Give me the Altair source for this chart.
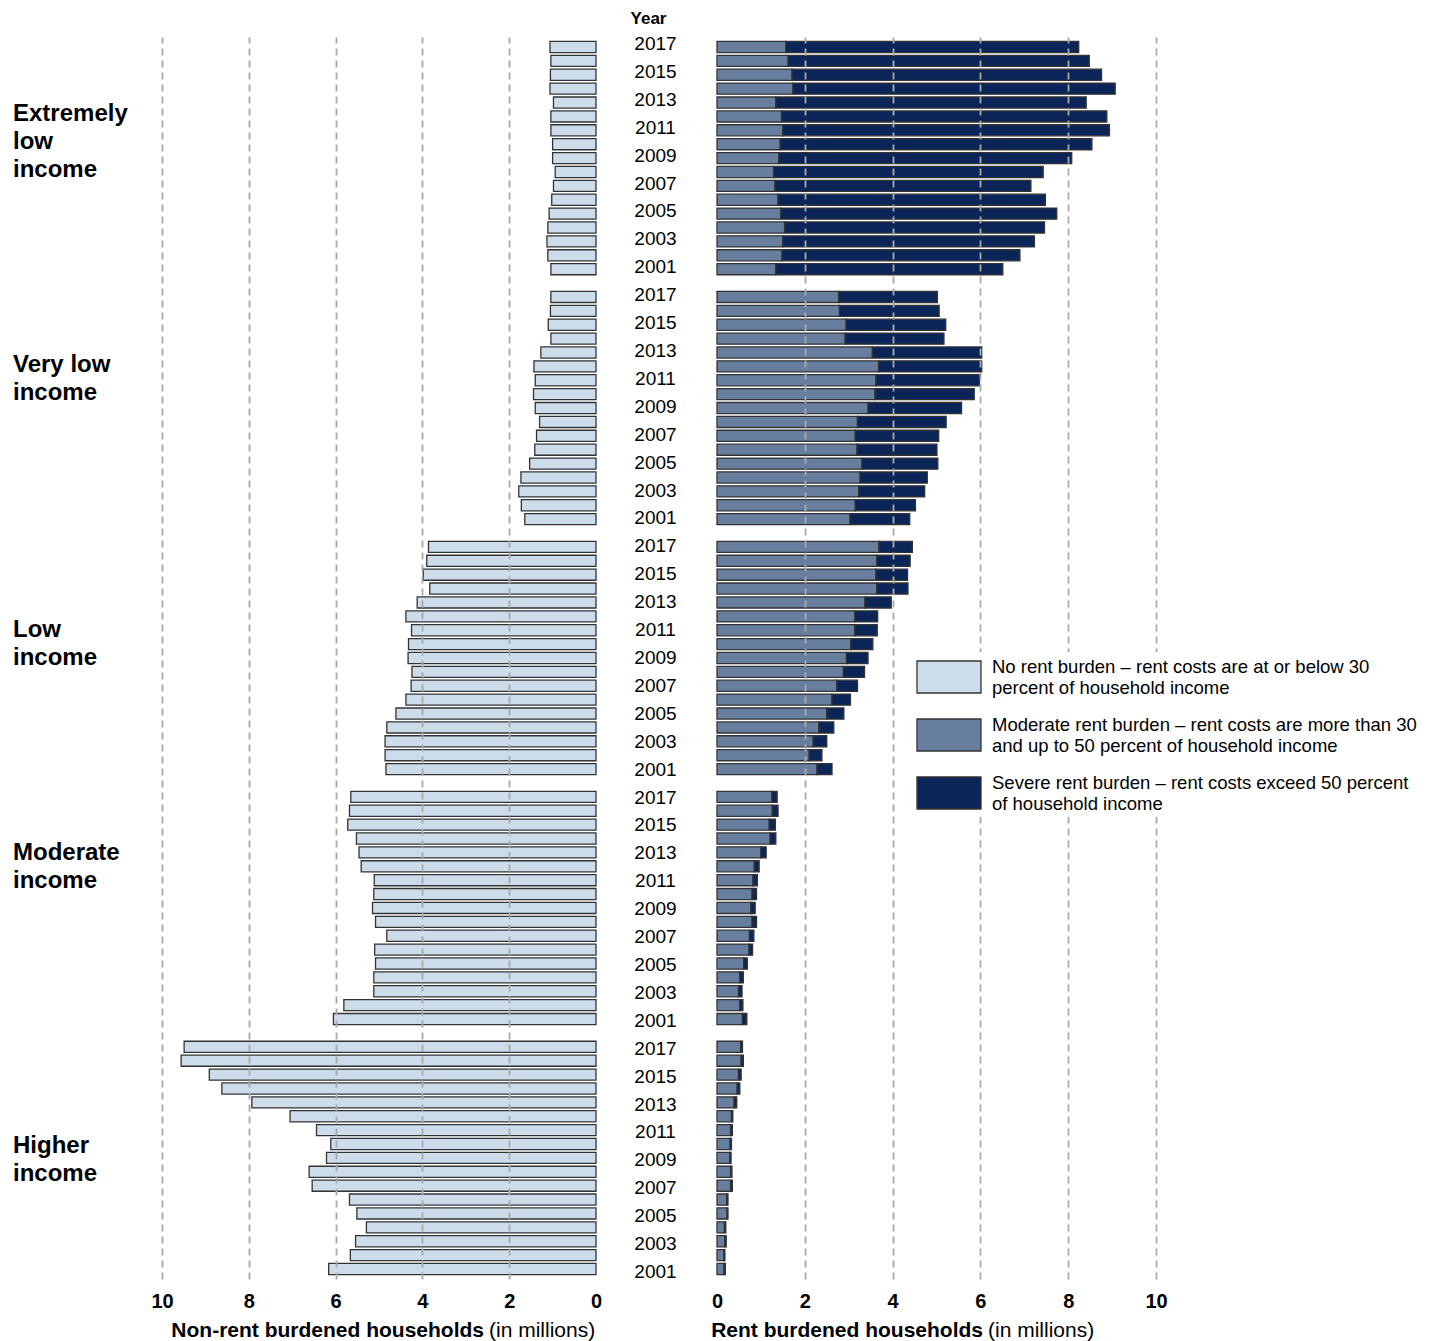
import altair as alt
import pandas as pd

FONT = "Liberation Sans"

YEARS = list(range(2017, 2000, -1))  # 2017 ... 2001 (top to bottom)
GROUPS = ["Extremely low income", "Very low income", "Low income",
          "Moderate income", "Higher income"]
GROUP_LABEL_LINES = [["Extremely", "low", "income"], ["Very low", "income"],
                     ["Low", "income"], ["Moderate", "income"], ["Higher", "income"]]
# year row beside which each label's first line sits
GROUP_LABEL_YEAR = [2012, 2012, 2011, 2013, 2010]

BURDENS = ["No rent burden", "Moderate rent burden", "Severe rent burden"]
LEGEND_LINES = [
    ["No rent burden \u2013 rent costs are at or below 30", "percent of household income"],
    ["Moderate rent burden \u2013 rent costs are more than 30", "and up to 50 percent of household income"],
    ["Severe rent burden \u2013 rent costs exceed 50 percent", "of household income"],
]
COLORS = ["#cddcea", "#687e9e", "#0b2558"]

# values in millions of households, years 2017 -> 2001
NONE_ELI = [1.06, 1.04, 1.05, 1.06, 0.98, 1.04, 1.04, 1.00, 1.00, 0.94, 0.98, 1.02, 1.08, 1.11, 1.13, 1.11, 1.04]
MOD_ELI = [1.57, 1.62, 1.71, 1.73, 1.34, 1.47, 1.50, 1.44, 1.41, 1.29, 1.32, 1.39, 1.45, 1.54, 1.50, 1.48, 1.34]
SEV_ELI = [6.67, 6.86, 7.05, 7.34, 7.07, 7.41, 7.44, 7.10, 6.67, 6.14, 5.83, 6.09, 6.29, 5.92, 5.73, 5.42, 5.17]

NONE_VLI = [1.04, 1.05, 1.10, 1.04, 1.27, 1.43, 1.40, 1.44, 1.40, 1.30, 1.37, 1.41, 1.53, 1.73, 1.78, 1.72, 1.64]
MOD_VLI = [2.77, 2.79, 2.94, 2.92, 3.54, 3.68, 3.62, 3.60, 3.44, 3.20, 3.15, 3.19, 3.30, 3.26, 3.23, 3.15, 3.03]
SEV_VLI = [2.25, 2.27, 2.27, 2.25, 2.49, 2.35, 2.36, 2.26, 2.13, 2.02, 1.90, 1.82, 1.73, 1.53, 1.50, 1.37, 1.36]

NONE_LI = [3.86, 3.90, 3.98, 3.83, 4.12, 4.38, 4.25, 4.32, 4.33, 4.24, 4.26, 4.38, 4.61, 4.82, 4.86, 4.86, 4.84]
MOD_LI = [3.69, 3.64, 3.62, 3.64, 3.37, 3.14, 3.14, 3.05, 2.95, 2.88, 2.73, 2.62, 2.50, 2.32, 2.19, 2.10, 2.28]
SEV_LI = [0.76, 0.76, 0.72, 0.71, 0.60, 0.52, 0.51, 0.50, 0.49, 0.48, 0.47, 0.42, 0.39, 0.34, 0.31, 0.29, 0.34]

NONE_MI = [5.65, 5.68, 5.72, 5.52, 5.46, 5.41, 5.11, 5.12, 5.15, 5.08, 4.82, 5.10, 5.08, 5.12, 5.12, 5.81, 6.05]
MOD_MI = [1.25, 1.26, 1.19, 1.21, 1.00, 0.85, 0.82, 0.80, 0.77, 0.80, 0.74, 0.73, 0.61, 0.52, 0.49, 0.52, 0.58]
SEV_MI = [0.12, 0.13, 0.14, 0.13, 0.12, 0.11, 0.10, 0.10, 0.10, 0.10, 0.10, 0.08, 0.08, 0.08, 0.08, 0.07, 0.10]

NONE_HI = [9.49, 9.56, 8.91, 8.62, 7.93, 7.05, 6.44, 6.11, 6.21, 6.61, 6.54, 5.68, 5.51, 5.29, 5.54, 5.66, 6.16]
MOD_HI = [0.54, 0.55, 0.49, 0.46, 0.39, 0.33, 0.31, 0.30, 0.29, 0.31, 0.31, 0.22, 0.23, 0.17, 0.18, 0.16, 0.16]
SEV_HI = [0.04, 0.05, 0.06, 0.06, 0.06, 0.03, 0.04, 0.03, 0.03, 0.03, 0.04, 0.03, 0.02, 0.03, 0.03, 0.02, 0.03]

NONE_ALL = [NONE_ELI, NONE_VLI, NONE_LI, NONE_MI, NONE_HI]
MOD_ALL = [MOD_ELI, MOD_VLI, MOD_LI, MOD_MI, MOD_HI]
SEV_ALL = [SEV_ELI, SEV_VLI, SEV_LI, SEV_MI, SEV_HI]

# ---- build tables ----
slots = []
for gi, g in enumerate(GROUPS):
    for yr in YEARS:
        slots.append(f"{g}|{yr}")
    if gi < len(GROUPS) - 1:
        slots.append(f"gap{gi}")

none_rows, rent_rows, year_rows, label_rows = [], [], [], []
for gi, g in enumerate(GROUPS):
    for yi, yr in enumerate(YEARS):
        slot = f"{g}|{yr}"
        none_rows.append({"slot": slot, "burden": BURDENS[0], "value": NONE_ALL[gi][yi]})
        rent_rows.append({"slot": slot, "burden": BURDENS[1], "value": MOD_ALL[gi][yi], "order": 1})
        rent_rows.append({"slot": slot, "burden": BURDENS[2], "value": SEV_ALL[gi][yi], "order": 2})
        if yr % 2 == 1:
            year_rows.append({"slot": slot, "year": str(yr)})
    for li, line in enumerate(GROUP_LABEL_LINES[gi]):
        label_rows.append({"slot": f"{g}|{GROUP_LABEL_YEAR[gi] - 2 * li}", "label": line})

df_none = pd.DataFrame(none_rows)
df_rent = pd.DataFrame(rent_rows)
df_years = pd.DataFrame(year_rows)
df_labels = pd.DataFrame(label_rows)
one = pd.DataFrame({"k": [0]})

H = 1242
yscale = alt.Scale(domain=slots, paddingInner=0.2, paddingOuter=0.32)
Y = alt.Y("slot:N", scale=yscale, axis=None)
cscale = alt.Scale(domain=BURDENS, range=COLORS)

STROKE = "#333333"


def xaxis():
    return alt.Axis(
        values=[0, 2, 4, 6, 8, 10], title=None, grid=True,
        gridDash=[7, 5], gridColor="#a9a9a9", gridWidth=1.8,
        gridOpacity={"condition": {"test": "datum.value == 0", "value": 0}, "value": 1},
        labelFont=FONT, labelFontSize=20, labelFontWeight="bold", labelColor="black",
        labelFlush=False, ticks=False, domain=False, labelPadding=12, zindex=1,
    )


label_expr = " : ".join(
    f"datum.label == '{b}' ? {LEGEND_LINES[i]!r}" for i, b in enumerate(BURDENS[:-1])
) + f" : {LEGEND_LINES[-1]!r}"

# group labels
labels_chart = alt.Chart(df_labels).mark_text(
    align="left", baseline="middle", font=FONT, fontSize=24, fontWeight="bold",
    color="black",
).encode(y=Y, text="label:N", x=alt.value(5)).properties(width=154, height=H)

# non-burdened bars
left_bars = alt.Chart(df_none).mark_bar(stroke=STROKE, strokeWidth=1.3).encode(
    x=alt.X("value:Q", scale=alt.Scale(domain=[0, 10], reverse=True), axis=xaxis()),
    y=Y,
    color=alt.Color("burden:N", scale=cscale, legend=None),
)
left_t1 = alt.Chart(one).mark_text(
    text="Non-rent burdened households", align="right", baseline="middle",
    font=FONT, fontSize=21, fontWeight="bold", color="black",
).encode(x=alt.value(322), y=alt.value(H + 52))
left_t2 = alt.Chart(one).mark_text(
    text="(in millions)", align="left", baseline="middle",
    font=FONT, fontSize=21, color="black",
).encode(x=alt.value(327), y=alt.value(H + 52))
left_chart = alt.layer(left_bars, left_t1, left_t2).properties(width=434, height=H)

# years
years_chart = alt.Chart(df_years).mark_text(
    align="center", baseline="middle", font=FONT, fontSize=19, color="black",
).encode(y=Y, text="year:N", x=alt.value(59.5)).properties(
    width=121, height=H,
    title=alt.TitleParams("Year", font=FONT, fontSize=17, fontWeight="bold",
                          color="black", dx=-8, offset=6.5),
)

# rent burdened bars
right_bars = alt.Chart(df_rent).mark_bar(stroke=STROKE, strokeWidth=1.3).encode(
    x=alt.X("value:Q", stack="zero", scale=alt.Scale(domain=[0, 10]), axis=xaxis()),
    y=Y,
    color=alt.Color(
        "burden:N", scale=cscale,
        legend=alt.Legend(
            title=None, orient="none", legendX=207, legendY=615,
            symbolType="M-1.6,-0.8H1.6V0.8H-1.6Z", symbolSize=1600,
            symbolStrokeColor=STROKE, symbolStrokeWidth=1.3, symbolOpacity=1,
            labelFont=FONT, labelFontSize=18.5, labelColor="black",
            labelLimit=700, labelOffset=22, rowPadding=17, labelBaseline="bottom",
            labelExpr=label_expr, fillColor="white", padding=4, zindex=2,
        ),
    ),
    order=alt.Order("order:Q"),
)
right_t1 = alt.Chart(one).mark_text(
    text="Rent burdened households", align="right", baseline="middle",
    font=FONT, fontSize=21, fontWeight="bold", color="black",
).encode(x=alt.value(266), y=alt.value(H + 52))
right_t2 = alt.Chart(one).mark_text(
    text="(in millions)", align="left", baseline="middle",
    font=FONT, fontSize=21, color="black",
).encode(x=alt.value(271), y=alt.value(H + 52))
right_chart = alt.layer(right_bars, right_t1, right_t2).properties(width=439, height=H)

chart = alt.hconcat(
    labels_chart, left_chart, years_chart, right_chart,
    spacing=0, bounds="flush",
).resolve_scale(color="independent").resolve_legend(color="independent").properties(
    padding={"left": 0, "top": 2, "right": 5, "bottom": 1}
).configure(font=FONT).configure_view(stroke=None)

chart.save("out.html", embed_options={"renderer": "svg", "actions": False})
